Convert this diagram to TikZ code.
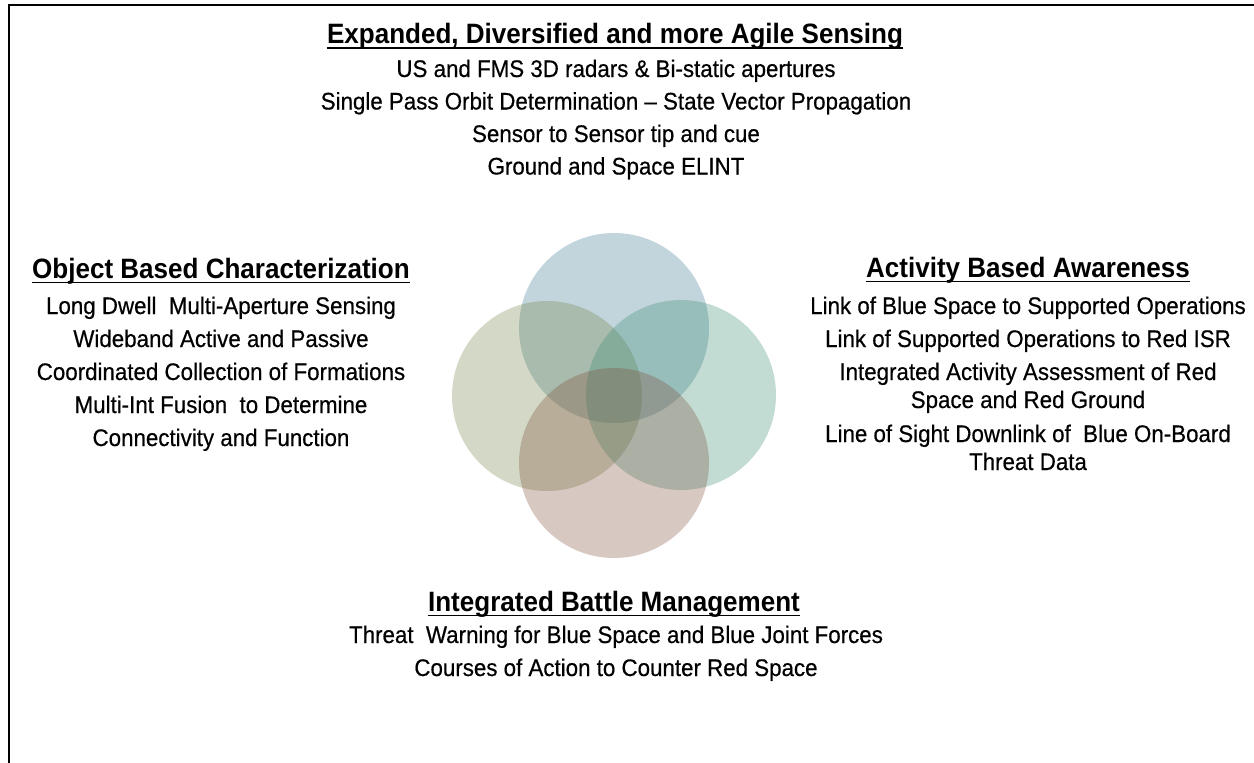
\documentclass[tikz,border=0pt]{standalone}
\usepackage{fontspec}
\setmainfont{Liberation Sans}[FakeStretch=0.93]
\newfontfamily\bodyfont{Liberation Sans}[FakeStretch=0.93,FakeBold=0.5]
\definecolor{topc}{RGB}{55,115,138}
\definecolor{leftc}{RGB}{108,128,65}
\definecolor{rightc}{RGB}{52,138,112}
\definecolor{botc}{RGB}{125,72,52}

\begin{document}
\begin{tikzpicture}[x=1pt,y=-1pt,
  ttl/.style={anchor=base,inner sep=0pt,font=\fontsize{28}{30}\selectfont\bfseries},
  body/.style={anchor=base,inner sep=0pt,align=center,font=\fontsize{24}{28}\bodyfont},
  uline/.style={line width=1.8pt}]
  \useasboundingbox (0,0) rectangle (1254,763);
  \draw[line width=2pt] (9,763) -- (9,5) -- (1254,5);
  \fill[topc,opacity=0.3] (614,328) circle [radius=95pt];
  \fill[leftc,opacity=0.3] (547,396) circle [radius=95pt];
  \fill[rightc,opacity=0.3] (681,395) circle [radius=95pt];
  \fill[botc,opacity=0.3] (614,463) circle [radius=95pt];
  \node[ttl] (sensing) at (615,43.5) {Expanded, Diversified and more Agile Sensing};
  \draw[uline] ([yshift=-4.5pt]sensing.base west) -- ([yshift=-4.5pt]sensing.base east);
  \node[body] (sensinglist) at (616,174.5) {US and FMS 3D radars \& Bi-static apertures\\[4.5pt]
    Single Pass Orbit Determination \textendash{} State Vector Propagation\\[4.5pt]
    Sensor to Sensor tip and cue\\[4.5pt]
    Ground and Space ELINT};
  \node[ttl] (object) at (221,278) {Object Based Characterization};
  \draw[uline] ([yshift=-4.5pt]object.base west) -- ([yshift=-4.5pt]object.base east);
  \node[body] (objectlist) at (221,446) {Long Dwell\ \ Multi-Aperture Sensing\\[5pt]
    Wideband Active and Passive\\[5pt]
    Coordinated Collection of Formations\\[5pt]
    Multi-Int Fusion\ \ to Determine\\[5pt]
    Connectivity and Function};
  \node[ttl] (activity) at (1028,277) {Activity Based Awareness};
  \draw[uline] ([yshift=-4.5pt]activity.base west) -- ([yshift=-4.5pt]activity.base east);
  \node[body] (activitylist) at (1028,470) {Link of Blue Space to Supported Operations\\[5pt]
    Link of Supported Operations to Red ISR\\[5pt]
    Integrated Activity Assessment of Red\\
    Space and Red Ground\\[6pt]
    Line of Sight Downlink of\ \ Blue On-Board\\
    Threat Data};
  \node[ttl] (battle) at (614,611) {Integrated Battle Management};
  \draw[uline] ([yshift=-4.5pt]battle.base west) -- ([yshift=-4.5pt]battle.base east);
  \node[body] (battlelist) at (616,676) {Threat\ \ Warning for Blue Space and Blue Joint Forces\\[5pt]
    Courses of Action to Counter Red Space};
\end{tikzpicture}
\end{document}
